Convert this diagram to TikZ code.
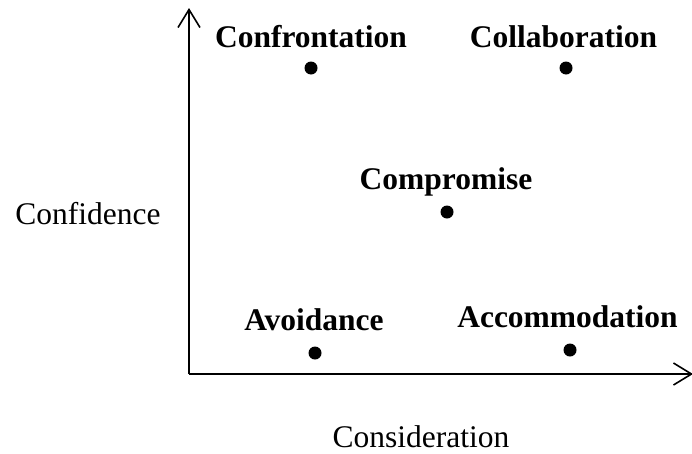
\documentclass[tikz,border=0pt]{standalone}
\usepackage{fontspec}
\setmainfont{Liberation Serif}
\usetikzlibrary{arrows.meta}
\begin{document}
\begin{tikzpicture}[x=1pt,y=-1pt,
  lab/.style={font=\fontsize{31.5}{36}\selectfont\bfseries,inner sep=0pt,anchor=base},
  axlab/.style={font=\fontsize{31.5}{36}\selectfont,inner sep=0pt,anchor=base},
  pt/.style={circle,fill=black,inner sep=0pt,minimum size=13pt},
  axis/.style={line width=1.6pt,-{Straight Barb[length=18pt,width=22pt,line width=1.6pt]}}]
\useasboundingbox (0,0) rectangle (692,453);
\clip (0,0) rectangle (692,453);
\coordinate (o) at (189,374);
\coordinate (ytop) at (189,8);
\coordinate (xend) at (693,374);
\draw[axis] (o) -- (ytop);
\draw[axis] (o) -- (xend);
\node[axlab] (conf) at (88,224) {Confidence};
\node[axlab] (cons) at (421,447) {Consideration};
\node[lab] (l1) at (311,47) {Confrontation};
\node[lab] (l2) at (563.5,47) {Collaboration};
\node[lab] (l3) at (446,189) {Compromise};
\node[lab] (l4) at (314,330) {Avoidance};
\node[lab] (l5) at (567.5,327) {Accommodation};
\node[pt] (p1) at (311,68) {};
\node[pt] (p2) at (566,68) {};
\node[pt] (p3) at (447,212) {};
\node[pt] (p4) at (315,353) {};
\node[pt] (p5) at (570,350) {};
\end{tikzpicture}
\end{document}
